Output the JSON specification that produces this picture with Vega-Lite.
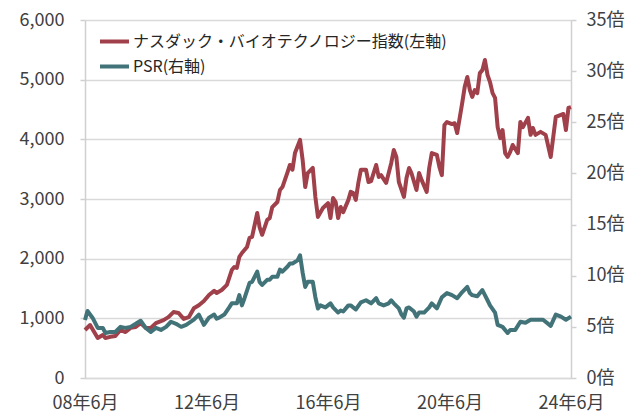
{
  "$schema": "https://vega.github.io/schema/vega-lite/v6.json",
  "width": 486,
  "height": 358,
  "autosize": {"type": "none"},
  "padding": {"left": 85, "top": 20, "right": 66, "bottom": 36},
  "background": "white",
  "config": {
    "view": {"stroke": null},
    "font": "Noto Sans CJK JP",
    "axis": {"labelFont": "Noto Sans CJK JP", "labelFontSize": 18, "labelColor": "#404040", "titleFontSize": 0},
    "legend": {"labelFont": "Noto Sans CJK JP"}
  },
  "encoding": {
    "x": {
      "field": "date",
      "type": "temporal",
      "scale": {"type": "utc", "domain": [{"year": 2008, "month": 6, "date": 1, "utc": true}, {"year": 2024, "month": 6, "date": 1, "utc": true}]},
      "axis": {
        "title": null,
        "values": [
          {"year": 2008, "month": 6, "date": 1, "utc": true},
          {"year": 2012, "month": 6, "date": 1, "utc": true},
          {"year": 2016, "month": 6, "date": 1, "utc": true},
          {"year": 2020, "month": 6, "date": 1, "utc": true},
          {"year": 2024, "month": 6, "date": 1, "utc": true}
        ],
        "labelExpr": "utcFormat(datum.value, '%y年%-m月')",
        "grid": false,
        "ticks": false,
        "domain": true,
        "domainColor": "#d9d9d9",
        "domainWidth": 1.5,
        "labelPadding": 16,
        "labelFlush": false,
        "labelOverlap": false
      }
    }
  },
  "layer": [
    {
      "data": {"values": [
        {"date": "2008-06-01", "nbi": 805}, {"date": "2008-08-01", "nbi": 888}, {"date": "2008-11-01", "nbi": 670},
        {"date": "2009-01-01", "nbi": 720}, {"date": "2009-02-01", "nbi": 670}, {"date": "2009-04-01", "nbi": 690},
        {"date": "2009-06-01", "nbi": 705}, {"date": "2009-08-01", "nbi": 805}, {"date": "2009-10-01", "nbi": 770},
        {"date": "2009-12-01", "nbi": 840}, {"date": "2010-02-01", "nbi": 855}, {"date": "2010-04-01", "nbi": 920},
        {"date": "2010-06-01", "nbi": 840}, {"date": "2010-08-01", "nbi": 840}, {"date": "2010-10-01", "nbi": 920},
        {"date": "2011-01-01", "nbi": 970}, {"date": "2011-03-01", "nbi": 1020}, {"date": "2011-05-01", "nbi": 1105},
        {"date": "2011-07-01", "nbi": 1090}, {"date": "2011-09-01", "nbi": 990}, {"date": "2011-11-01", "nbi": 1020},
        {"date": "2012-01-01", "nbi": 1170}, {"date": "2012-03-01", "nbi": 1220}, {"date": "2012-05-01", "nbi": 1290},
        {"date": "2012-07-01", "nbi": 1390}, {"date": "2012-09-01", "nbi": 1460}, {"date": "2012-10-01", "nbi": 1425},
        {"date": "2012-12-01", "nbi": 1475}, {"date": "2013-02-01", "nbi": 1560}, {"date": "2013-04-01", "nbi": 1810},
        {"date": "2013-05-01", "nbi": 1860}, {"date": "2013-06-01", "nbi": 1845}, {"date": "2013-07-01", "nbi": 2030},
        {"date": "2013-08-01", "nbi": 2095}, {"date": "2013-10-01", "nbi": 2195}, {"date": "2013-11-01", "nbi": 2350},
        {"date": "2013-12-01", "nbi": 2365}, {"date": "2014-02-01", "nbi": 2765}, {"date": "2014-03-01", "nbi": 2530},
        {"date": "2014-04-01", "nbi": 2400}, {"date": "2014-06-01", "nbi": 2650}, {"date": "2014-07-01", "nbi": 2680},
        {"date": "2014-08-01", "nbi": 2865}, {"date": "2014-10-01", "nbi": 2950}, {"date": "2014-11-01", "nbi": 3150},
        {"date": "2014-12-01", "nbi": 3200}, {"date": "2015-02-01", "nbi": 3450}, {"date": "2015-03-01", "nbi": 3570},
        {"date": "2015-04-01", "nbi": 3490}, {"date": "2015-05-01", "nbi": 3770}, {"date": "2015-07-01", "nbi": 3990},
        {"date": "2015-08-01", "nbi": 3655}, {"date": "2015-09-01", "nbi": 3200}, {"date": "2015-10-01", "nbi": 3435},
        {"date": "2015-12-01", "nbi": 3520}, {"date": "2016-01-01", "nbi": 3035}, {"date": "2016-02-01", "nbi": 2700},
        {"date": "2016-04-01", "nbi": 2850}, {"date": "2016-06-01", "nbi": 2930}, {"date": "2016-07-01", "nbi": 2680},
        {"date": "2016-08-01", "nbi": 3015}, {"date": "2016-09-01", "nbi": 2950}, {"date": "2016-10-01", "nbi": 2680},
        {"date": "2016-11-01", "nbi": 2865}, {"date": "2016-12-01", "nbi": 2780}, {"date": "2017-02-01", "nbi": 2985},
        {"date": "2017-03-01", "nbi": 3120}, {"date": "2017-04-01", "nbi": 3100}, {"date": "2017-05-01", "nbi": 2985},
        {"date": "2017-06-01", "nbi": 3270}, {"date": "2017-07-01", "nbi": 3490}, {"date": "2017-09-01", "nbi": 3490},
        {"date": "2017-10-01", "nbi": 3285}, {"date": "2017-11-01", "nbi": 3300}, {"date": "2018-01-01", "nbi": 3570},
        {"date": "2018-02-01", "nbi": 3370}, {"date": "2018-03-01", "nbi": 3400}, {"date": "2018-05-01", "nbi": 3270},
        {"date": "2018-06-01", "nbi": 3435}, {"date": "2018-07-01", "nbi": 3600}, {"date": "2018-08-01", "nbi": 3820},
        {"date": "2018-09-01", "nbi": 3705}, {"date": "2018-10-01", "nbi": 3285}, {"date": "2018-12-01", "nbi": 3035},
        {"date": "2019-01-01", "nbi": 3350}, {"date": "2019-02-01", "nbi": 3520}, {"date": "2019-03-01", "nbi": 3435},
        {"date": "2019-05-01", "nbi": 3150}, {"date": "2019-06-01", "nbi": 3435}, {"date": "2019-07-01", "nbi": 3320},
        {"date": "2019-09-01", "nbi": 3120}, {"date": "2019-10-01", "nbi": 3520}, {"date": "2019-11-01", "nbi": 3770},
        {"date": "2020-01-01", "nbi": 3740}, {"date": "2020-02-01", "nbi": 3535}, {"date": "2020-03-01", "nbi": 3400},
        {"date": "2020-04-01", "nbi": 4240}, {"date": "2020-05-01", "nbi": 4290}, {"date": "2020-07-01", "nbi": 4255},
        {"date": "2020-08-01", "nbi": 4270}, {"date": "2020-09-01", "nbi": 4105}, {"date": "2020-11-01", "nbi": 4610},
        {"date": "2020-12-01", "nbi": 4880}, {"date": "2021-01-01", "nbi": 5045}, {"date": "2021-02-01", "nbi": 4825},
        {"date": "2021-03-01", "nbi": 4710}, {"date": "2021-04-01", "nbi": 4825}, {"date": "2021-05-01", "nbi": 4775},
        {"date": "2021-06-01", "nbi": 5110}, {"date": "2021-07-01", "nbi": 5160}, {"date": "2021-08-01", "nbi": 5330},
        {"date": "2021-09-01", "nbi": 5080}, {"date": "2021-10-01", "nbi": 4960}, {"date": "2021-11-01", "nbi": 4775},
        {"date": "2021-12-01", "nbi": 4695}, {"date": "2022-01-01", "nbi": 4205}, {"date": "2022-02-01", "nbi": 4020},
        {"date": "2022-03-01", "nbi": 4155}, {"date": "2022-04-01", "nbi": 3770}, {"date": "2022-05-01", "nbi": 3705},
        {"date": "2022-06-01", "nbi": 3790}, {"date": "2022-07-01", "nbi": 3905}, {"date": "2022-09-01", "nbi": 3770},
        {"date": "2022-10-01", "nbi": 4290}, {"date": "2022-11-01", "nbi": 4205}, {"date": "2023-01-01", "nbi": 4360},
        {"date": "2023-02-01", "nbi": 4075}, {"date": "2023-03-01", "nbi": 4190}, {"date": "2023-04-01", "nbi": 4075},
        {"date": "2023-06-01", "nbi": 4125}, {"date": "2023-08-01", "nbi": 4075}, {"date": "2023-10-01", "nbi": 3705},
        {"date": "2023-12-01", "nbi": 4375}, {"date": "2024-02-01", "nbi": 4410}, {"date": "2024-03-01", "nbi": 4425},
        {"date": "2024-04-01", "nbi": 4155}, {"date": "2024-05-01", "nbi": 4525}, {"date": "2024-06-01", "nbi": 4540}
      ]},
      "mark": {"type": "line", "strokeWidth": 4, "strokeJoin": "round"},
      "encoding": {
        "y": {
          "field": "nbi",
          "type": "quantitative",
          "scale": {"domain": [0, 6000], "nice": false},
          "axis": {
            "orient": "left",
            "title": null,
            "values": [0, 1000, 2000, 3000, 4000, 5000, 6000],
            "labelExpr": "format(datum.value, ',d')",
            "grid": true,
            "gridColor": "#d9d9d9",
            "gridWidth": 1.5,
            "domain": true,
            "domainColor": "#d0d0d0",
            "domainWidth": 1.5,
            "tickColor": "#d0d0d0",
            "tickSize": 5,
            "tickWidth": 1.5,
            "labelPadding": 16
          }
        },
        "color": {
          "datum": "ナスダック・バイオテクノロジー指数(左軸)",
          "type": "nominal",
          "scale": {
            "domain": ["ナスダック・バイオテクノロジー指数(左軸)", "PSR(右軸)"],
            "range": ["#A0404A", "#417379"]
          },
          "legend": {
            "title": null,
            "orient": "none",
            "legendX": 13,
            "legendY": 5,
            "padding": 0,
            "symbolType": "stroke",
            "symbolSize": 841,
            "symbolStrokeWidth": 4,
            "labelFontSize": 16,
            "labelColor": "#262626",
            "labelOffset": 2,
            "rowPadding": -2,
            "labelLimit": 500
          }
        }
      }
    },
    {
      "data": {"values": [
        {"date": "2008-06-01", "psr": 5.67}, {"date": "2008-07-01", "psr": 6.55}, {"date": "2008-09-01", "psr": 5.87},
        {"date": "2008-11-01", "psr": 4.9}, {"date": "2009-01-01", "psr": 4.9}, {"date": "2009-02-01", "psr": 4.4},
        {"date": "2009-04-01", "psr": 4.5}, {"date": "2009-06-01", "psr": 4.5}, {"date": "2009-08-01", "psr": 5.0},
        {"date": "2009-10-01", "psr": 4.9}, {"date": "2009-12-01", "psr": 5.0}, {"date": "2010-02-01", "psr": 5.3},
        {"date": "2010-04-01", "psr": 5.6}, {"date": "2010-06-01", "psr": 4.9}, {"date": "2010-08-01", "psr": 4.5},
        {"date": "2010-10-01", "psr": 4.9}, {"date": "2010-12-01", "psr": 4.7}, {"date": "2011-02-01", "psr": 5.0},
        {"date": "2011-04-01", "psr": 5.5}, {"date": "2011-06-01", "psr": 5.3}, {"date": "2011-08-01", "psr": 5.0},
        {"date": "2011-10-01", "psr": 5.2}, {"date": "2012-01-01", "psr": 5.7}, {"date": "2012-03-01", "psr": 6.2},
        {"date": "2012-05-01", "psr": 5.2}, {"date": "2012-07-01", "psr": 5.9}, {"date": "2012-09-01", "psr": 6.2},
        {"date": "2012-10-01", "psr": 5.8}, {"date": "2012-11-01", "psr": 5.9}, {"date": "2013-01-01", "psr": 6.2},
        {"date": "2013-03-01", "psr": 6.9}, {"date": "2013-04-01", "psr": 7.3}, {"date": "2013-06-01", "psr": 7.3},
        {"date": "2013-07-01", "psr": 8.1}, {"date": "2013-08-01", "psr": 7.1}, {"date": "2013-09-01", "psr": 7.8},
        {"date": "2013-11-01", "psr": 9.3}, {"date": "2013-12-01", "psr": 9.4}, {"date": "2014-02-01", "psr": 10.4},
        {"date": "2014-03-01", "psr": 9.4}, {"date": "2014-04-01", "psr": 9.1}, {"date": "2014-06-01", "psr": 9.6},
        {"date": "2014-07-01", "psr": 9.6}, {"date": "2014-08-01", "psr": 9.9}, {"date": "2014-10-01", "psr": 9.9},
        {"date": "2014-11-01", "psr": 10.6}, {"date": "2014-12-01", "psr": 10.4}, {"date": "2015-02-01", "psr": 10.9},
        {"date": "2015-03-01", "psr": 11.2}, {"date": "2015-04-01", "psr": 11.2}, {"date": "2015-06-01", "psr": 11.5},
        {"date": "2015-07-01", "psr": 12.0}, {"date": "2015-08-01", "psr": 10.3}, {"date": "2015-09-01", "psr": 8.9},
        {"date": "2015-10-01", "psr": 9.4}, {"date": "2015-12-01", "psr": 9.4}, {"date": "2016-01-01", "psr": 7.9},
        {"date": "2016-02-01", "psr": 6.8}, {"date": "2016-03-01", "psr": 7.1}, {"date": "2016-05-01", "psr": 6.9},
        {"date": "2016-07-01", "psr": 7.3}, {"date": "2016-08-01", "psr": 6.9}, {"date": "2016-10-01", "psr": 6.4},
        {"date": "2016-11-01", "psr": 6.6}, {"date": "2016-12-01", "psr": 6.5}, {"date": "2017-02-01", "psr": 7.1},
        {"date": "2017-03-01", "psr": 7.1}, {"date": "2017-05-01", "psr": 6.7}, {"date": "2017-07-01", "psr": 7.4},
        {"date": "2017-09-01", "psr": 7.6}, {"date": "2017-11-01", "psr": 7.3}, {"date": "2018-01-01", "psr": 7.8},
        {"date": "2018-02-01", "psr": 7.3}, {"date": "2018-04-01", "psr": 7.1}, {"date": "2018-06-01", "psr": 7.3},
        {"date": "2018-07-01", "psr": 7.6}, {"date": "2018-08-01", "psr": 7.3}, {"date": "2018-10-01", "psr": 6.8},
        {"date": "2018-11-01", "psr": 6.2}, {"date": "2018-12-01", "psr": 5.9}, {"date": "2019-01-01", "psr": 6.8},
        {"date": "2019-02-01", "psr": 6.9}, {"date": "2019-04-01", "psr": 6.5}, {"date": "2019-05-01", "psr": 6.0},
        {"date": "2019-06-01", "psr": 6.4}, {"date": "2019-08-01", "psr": 6.4}, {"date": "2019-10-01", "psr": 6.9},
        {"date": "2019-11-01", "psr": 7.3}, {"date": "2020-01-01", "psr": 6.8}, {"date": "2020-03-01", "psr": 7.9},
        {"date": "2020-05-01", "psr": 8.3}, {"date": "2020-07-01", "psr": 8.1}, {"date": "2020-09-01", "psr": 7.8},
        {"date": "2020-11-01", "psr": 8.4}, {"date": "2021-01-01", "psr": 8.9}, {"date": "2021-02-01", "psr": 8.3},
        {"date": "2021-03-01", "psr": 8.1}, {"date": "2021-05-01", "psr": 8.0}, {"date": "2021-07-01", "psr": 8.6},
        {"date": "2021-08-01", "psr": 8.1}, {"date": "2021-09-01", "psr": 7.6}, {"date": "2021-10-01", "psr": 7.1},
        {"date": "2021-12-01", "psr": 6.4}, {"date": "2022-01-01", "psr": 5.2}, {"date": "2022-03-01", "psr": 5.0},
        {"date": "2022-05-01", "psr": 4.4}, {"date": "2022-06-01", "psr": 4.7}, {"date": "2022-08-01", "psr": 4.7},
        {"date": "2022-10-01", "psr": 5.5}, {"date": "2022-12-01", "psr": 5.4}, {"date": "2023-02-01", "psr": 5.7},
        {"date": "2023-04-01", "psr": 5.7}, {"date": "2023-07-01", "psr": 5.7}, {"date": "2023-10-01", "psr": 5.1},
        {"date": "2023-12-01", "psr": 6.2}, {"date": "2024-02-01", "psr": 6.0}, {"date": "2024-04-01", "psr": 5.7},
        {"date": "2024-06-01", "psr": 6.0}
      ]},
      "mark": {"type": "line", "strokeWidth": 4, "strokeJoin": "round"},
      "encoding": {
        "y": {
          "field": "psr",
          "type": "quantitative",
          "scale": {"domain": [0, 35], "nice": false},
          "axis": {
            "orient": "right",
            "title": null,
            "values": [0, 5, 10, 15, 20, 25, 30, 35],
            "labelExpr": "datum.value + '倍'",
            "grid": false,
            "domain": true,
            "domainColor": "#d0d0d0",
            "domainWidth": 1.5,
            "tickColor": "#d0d0d0",
            "tickSize": 5,
            "tickWidth": 1.5,
            "labelPadding": 10
          }
        },
        "color": {"datum": "PSR(右軸)", "type": "nominal"}
      }
    }
  ],
  "resolve": {"scale": {"y": "independent"}}
}
